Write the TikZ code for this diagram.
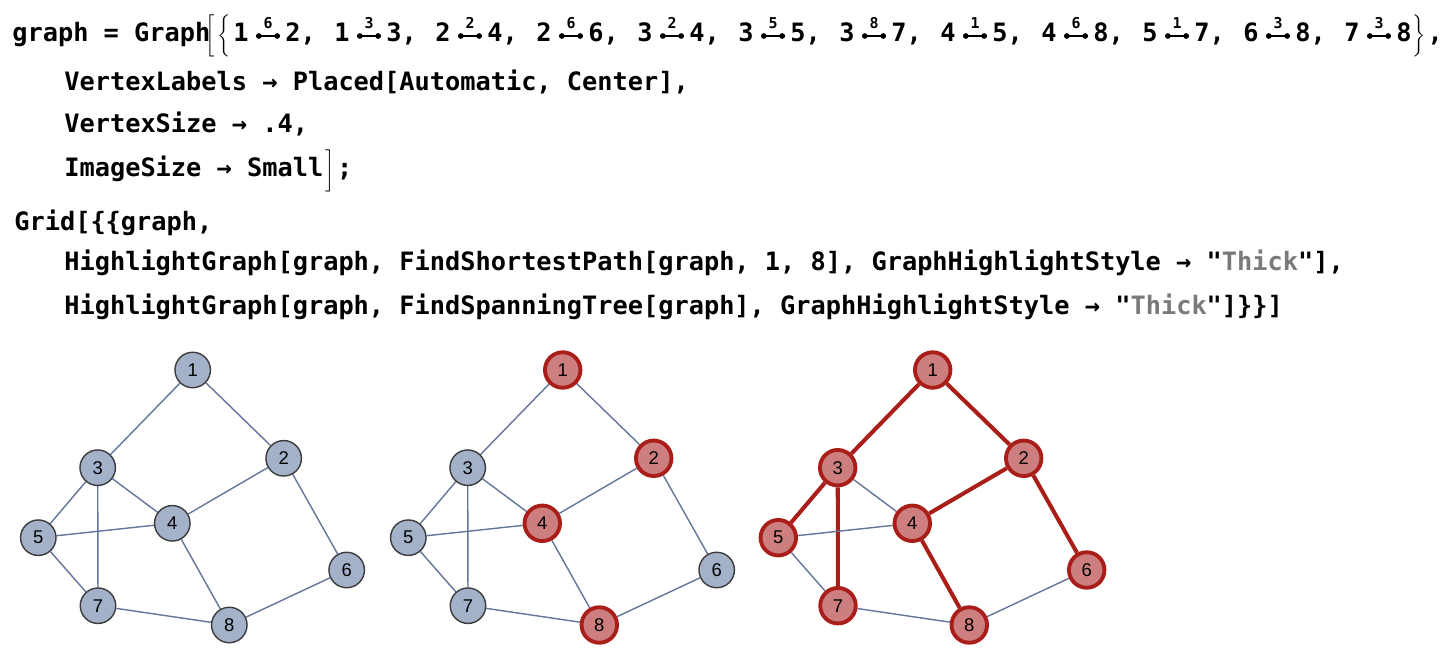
\documentclass[tikz,border=0pt]{standalone}
\usepackage{fontspec}
\setmonofont{DejaVu Sans Mono}
\newfontfamily\vtxfont{Liberation Sans}
\usetikzlibrary{arrows.meta, positioning, backgrounds}
\definecolor{vtxfill}{RGB}{163,177,201}
\definecolor{vtxline}{RGB}{60,60,60}
\definecolor{lnkcol}{RGB}{100,117,155}
\definecolor{hlfill}{RGB}{205,127,127}
\definecolor{hlline}{RGB}{170,30,25}
\definecolor{strcol}{RGB}{122,122,122}
\tikzset{
  code/.style={font=\ttfamily\bfseries\fontsize{14.4pt}{17pt}\selectfont, inner sep=0pt, anchor=base west},
  wlbl/.style={font=\ttfamily\bfseries\fontsize{8.5pt}{9pt}\selectfont, inner sep=0pt},
  wdg/.style={line width=0.9pt, {Circle[length=3.2pt]}-{Circle[length=3.2pt]}},
  vtx/.style={circle, draw=vtxline, fill=vtxfill, line width=0.8pt, minimum size=0.71cm, inner sep=0pt, font=\vtxfont\fontsize{10.5pt}{12pt}\selectfont},
  hl/.style={vtx, draw=hlline, fill=hlfill, line width=2.2pt},
  lnk/.style={draw=lnkcol, line width=0.8pt},
  tlnk/.style={draw=hlline, line width=2.3pt},
}
\newcommand{\bigdelim}[1]{$\left#1\vrule height 15.5pt depth 5pt width 0pt\right.$}
\newcommand{\thk}{"\textcolor{strcol}{Thick}"}
\begin{document}
\begin{tikzpicture}[x=0.02cm, y=-0.02cm]
  \useasboundingbox (0,0) rectangle (1448,662);
  % code lines
  \node[code] (gdef) at (12,42) {graph = Graph};
  \node[code] (gbrk) at (205,42) {\bigdelim[};
  \node[code] (gbrc) at (217,42) {\bigdelim\{};
  \foreach \a/\w/\b [count=\i from 0] in {1/6/{2,}, 1/3/{3,}, 2/2/{4,}, 2/6/{6,}, 3/2/{4,}, 3/5/{5,}, 3/8/{7,}, 4/1/{5,}, 4/6/{8,}, 5/1/{7,}, 6/3/{8,}, 7/3/8}{
    \node[code] (ea\i) at (233+101*\i,42) {\a};
    \draw[wdg] (256+101*\i,36) -- (280+101*\i,36);
    \node[wlbl] (ew\i) at (268+101*\i,23) {\w};
    \node[code] (eb\i) at (285+101*\i,42) {\b};
  }
  \node[code, right=0pt of eb11.base east, anchor=base west] (gend) {\bigdelim\},};
  \node[code] (vlab) at (64,91) {VertexLabels → Placed[Automatic, Center],};
  \node[code] (vsize) at (64,133) {VertexSize → .4,};
  \node[code] (isize) at (64,177) {ImageSize → Small};
  \node[code, anchor=base west] (iend) at ([xshift=1pt]isize.base east) {\bigdelim];};
  \node[code] (grid) at (14,231) {Grid[\{\{graph,};
  \node[code] (hpath) at (64,271) {HighlightGraph[graph, FindShortestPath[graph, 1, 8], GraphHighlightStyle → \thk],};
  \node[code] (htree) at (64,315) {HighlightGraph[graph, FindSpanningTree[graph], GraphHighlightStyle → \thk]\}\}]};
  % the three graphs
  \foreach \n/\px/\py/\s in {1/192.7/370/hl, 2/283.7/458.3/hl, 3/97.7/467.7/vtx, 4/172.3/523.3/hl, 5/38.3/537.7/vtx, 6/346.7/570/vtx, 7/98/605.7/vtx, 8/229.3/625/hl}{
    \node[vtx] (a\n) at (\px,\py) {\n};
    \node[\s] (b\n) at (\px+370,\py) {\n};
    \node[hl] (c\n) at (\px+740,\py) {\n};
  }
  \begin{scope}[on background layer]
  \foreach \u/\v/\s in {1/2/tlnk, 1/3/tlnk, 2/4/tlnk, 2/6/tlnk, 3/4/lnk, 3/5/tlnk, 3/7/tlnk, 4/5/lnk, 4/8/tlnk, 5/7/lnk, 6/8/lnk, 7/8/lnk}{
    \draw[lnk] (a\u) -- (a\v);
    \draw[lnk] (b\u) -- (b\v);
    \draw[\s] (c\u) -- (c\v);
  }
  \end{scope}
\end{tikzpicture}
\end{document}
